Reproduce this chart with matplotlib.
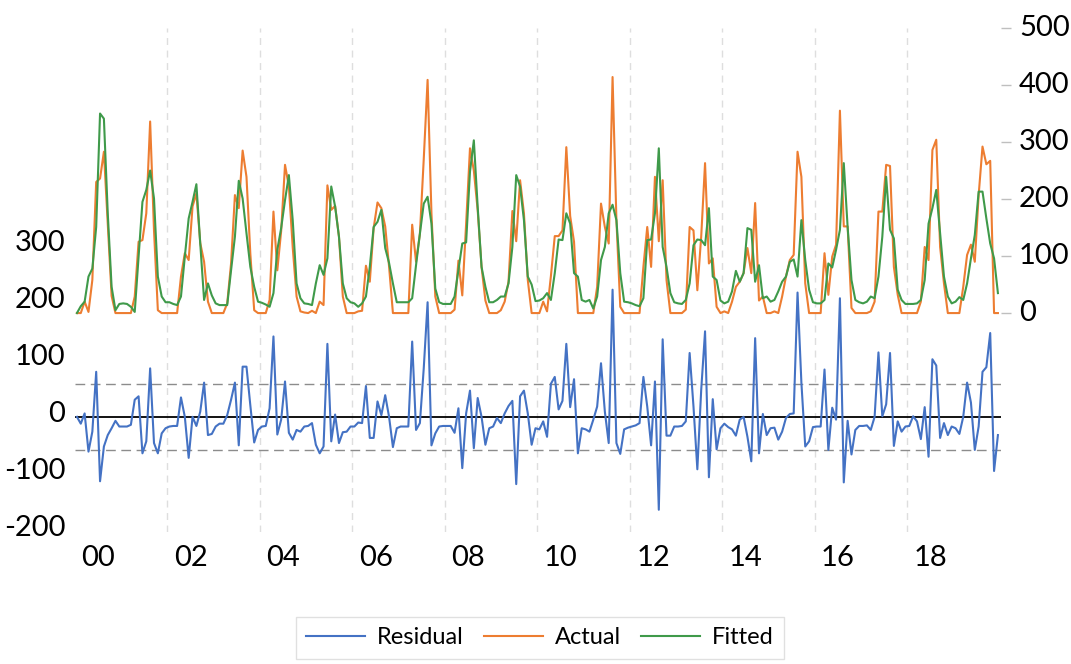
import matplotlib
matplotlib.use("Agg")
import matplotlib.pyplot as plt
import matplotlib.transforms as mtrans
import numpy as np

plt.rcParams["font.family"] = ["Lato", "DejaVu Sans"]

# monthly data, Jan 2000 - Dec 2019 (one row per year)
actual = [
    0, 0, 20, 2, 58, 230, 236, 283, 158, 30, 0, 0,
    0, 0, 0, 29, 125, 128, 175, 336, 145, 5, 0, 0,
    0, 0, 0, 64, 105, 93, 187, 210, 123, 90, 20, 0,
    0, 0, 0, 17, 87, 207, 184, 285, 239, 104, 5, 0,
    0, 0, 23, 178, 75, 144, 260, 222, 115, 29, 3, 1,
    0, 4, 0, 20, 14, 224, 181, 188, 134, 29, 0, 0,
    0, 3, 4, 83, 55, 149, 194, 184, 152, 82, 0, 0,
    0, 0, 0, 155, 90, 139, 270, 409, 175, 29, 0, 0,
    0, 0, 6, 92, 31, 157, 289, 250, 180, 81, 22, 0,
    0, 0, 5, 20, 55, 179, 126, 233, 175, 58, 0, 0,
    0, 20, 3, 65, 135, 135, 145, 291, 170, 125, 0, 0,
    0, 0, 0, 46, 192, 151, 122, 414, 163, 11, 0, 0,
    0, 0, 0, 81, 151, 81, 239, 126, 233, 58, 0, 0,
    0, 0, 6, 151, 145, 40, 134, 263, 87, 96, 11, 0,
    3, 0, 20, 46, 55, 70, 114, 70, 193, 22, 29, 0,
    0, 3, 0, 29, 64, 93, 102, 283, 239, 52, 0, 0,
    0, 0, 105, 32, 99, 120, 355, 152, 152, 9, 0, 0,
    0, 0, 3, 20, 178, 178, 260, 258, 81, 32, 0, 0,
    0, 0, 0, 20, 116, 93, 286, 304, 116, 52, 0, 0,
    0, 0, 46, 102, 120, 90, 207, 292, 261, 267, 0, 0,
]

fitted = [
    0, 12, 20, 64, 78, 151, 350, 341, 175, 46, 5, 16,
    17, 16, 11, 2, 99, 195, 216, 250, 201, 64, 29, 19,
    19, 16, 14, 29, 99, 166, 195, 226, 122, 23, 52, 31,
    17, 14, 14, 14, 75, 134, 232, 201, 140, 81, 46, 20,
    18, 15, 11, 35, 111, 149, 198, 242, 163, 52, 26, 17,
    16, 14, 52, 84, 67, 96, 222, 187, 134, 52, 26, 19,
    17, 11, 17, 29, 81, 151, 160, 181, 114, 88, 52, 19,
    19, 19, 19, 26, 84, 139, 192, 204, 157, 43, 19, 16,
    16, 16, 29, 76, 122, 124, 248, 303, 186, 81, 46, 19,
    19, 23, 29, 29, 52, 116, 242, 222, 163, 64, 50, 21,
    22, 26, 35, 23, 70, 129, 128, 175, 157, 70, 64, 23,
    20, 23, 8, 29, 93, 116, 175, 190, 163, 70, 20, 19,
    17, 14, 12, 26, 128, 129, 175, 289, 116, 81, 35, 19,
    17, 16, 23, 52, 119, 129, 128, 119, 184, 64, 58, 22,
    17, 20, 38, 74, 55, 70, 149, 146, 55, 84, 26, 29,
    20, 23, 38, 55, 64, 90, 94, 64, 163, 93, 41, 19,
    17, 17, 23, 87, 80, 111, 146, 263, 151, 58, 23, 19,
    17, 20, 29, 26, 64, 134, 239, 146, 131, 41, 23, 16,
    16, 16, 17, 23, 58, 157, 184, 216, 139, 64, 29, 17,
    20, 28, 23, 52, 96, 137, 213, 213, 166, 122, 96, 35,
]

residual = [
    0, -12, 6, -61, -26, 79, -113, -52, -32, -20, -7, -17,
    -17, -17, -14, 30, 36, -64, -43, 85, -46, -64, -29, -20,
    -17, -16, -16, 34, 0, -72, 0, -16, 9, 60, -32, -30,
    -17, -12, -12, 3, 30, 60, -50, 88, 88, 20, -45, -23,
    -17, -16, 15, 141, -31, -5, 62, -28, -40, -23, -26, -17,
    -16, -11, -49, -64, -52, 128, -43, 4, -46, -27, -26, -17,
    -17, -10, -11, 54, -37, -37, 27, 3, 38, 0, -53, -20,
    -17, -17, -17, 132, -23, -11, 85, 201, -50, -29, -17, -16,
    -16, -16, -28, 15, -90, 6, 46, -55, 33, 0, -49, -20,
    -17, -2, -11, 6, 19, 28, -118, 36, 46, 6, -49, -20,
    -22, -8, -35, 58, 70, 13, 28, 128, 17, 66, -64, -20,
    -22, -26, -5, 18, 94, 9, -46, 223, -46, -65, -22, -19,
    -17, -15, -11, 70, 18, -50, 62, -163, 136, -33, -33, -17,
    -17, -16, -8, 112, 18, -92, 47, 150, -106, 31, -57, -20,
    -12, -18, -22, -33, -5, 0, -35, -78, 138, -64, 5, -32,
    -20, -19, -40, -26, -2, 5, 6, 218, 60, -52, -43, -18,
    -17, -17, 83, -58, 16, -5, 208, -115, -7, -66, -23, -16,
    -16, -15, -23, 0, 113, 1, 22, 112, -51, -8, -26, -17,
    -16, 1, -8, -39, 17, -70, 101, 90, -37, -11, -32, -17,
    -20, -30, 0, 60, 25, -58, -17, 79, 87, 147, -95, -32,
]

year_labels = ["00", "02", "04", "06", "08", "10", "12", "14", "16", "18"]
resid_se = 58

blue = "#4472C4"
orange = "#ED7D31"
green = "#3F9A4A"

months = np.arange(len(actual))

fig = plt.figure(figsize=(10.71, 6.64), dpi=100)
ax = fig.add_axes([75 / 1071, 1 - 532 / 664, 926 / 1071, 504 / 664])
ax2 = ax.twinx()

# residual panel (left axis)
ax.axhline(0, color="black", lw=1.3, zorder=2)
for s in (resid_se, -resid_se):
    ax.axhline(s, color="#8C8C8C", lw=1.0, dashes=(7, 4), zorder=2)
for j in range(1, len(year_labels)):
    ax.axvline(24 * j - 0.5, color="#DEDEDE", lw=1.0, dashes=(5, 4), zorder=1)
res_line, = ax.plot(months, residual, color=blue, lw=1.5, zorder=3)

# actual / fitted (right axis)
act_line, = ax2.plot(months, actual, color=orange, lw=1.5)
fit_line, = ax2.plot(months, fitted, color=green, lw=1.5)

ax.set_xlim(-0.5, len(actual) - 0.2)
ax.set_ylim(-202, 682)
ax2.set_ylim(-384, 500)

ax.set_yticks([-200, -100, 0, 100, 200, 300])
ax.set_yticklabels(["-200", "-100", "0", "100", "200", "300"])
ax.tick_params(axis="y", length=0, pad=7, labelsize=21)
ax.set_xticks([24 * j + 5.5 for j in range(len(year_labels))])
ax.set_xticklabels(year_labels)
ax.tick_params(axis="x", length=0, pad=9, labelsize=21)

ax2.set_yticks([0, 100, 200, 300, 400, 500])
ax2.tick_params(axis="y", length=7, width=1, color="#BFBFBF", pad=6, labelsize=21)

# labels sit a little above their tick positions in the original
up_left = mtrans.ScaledTranslation(0, 5 / 100, fig.dpi_scale_trans)
up_right = mtrans.ScaledTranslation(0, 3 / 100, fig.dpi_scale_trans)
for lab in ax.get_yticklabels():
    lab.set_transform(lab.get_transform() + up_left)
for lab in ax2.get_yticklabels():
    lab.set_transform(lab.get_transform() + up_right)

for a in (ax, ax2):
    for sp in a.spines.values():
        sp.set_visible(False)

leg = fig.legend([res_line, act_line, fit_line], ["Residual", "Actual", "Fitted"],
                 loc="center", bbox_to_anchor=(540 / 1071, 1 - 638 / 664), ncol=3,
                 fontsize=17, frameon=True, fancybox=False, edgecolor="#D9D9D9",
                 handlelength=2.5, handletextpad=0.5, columnspacing=0.85,
                 borderpad=0.45, borderaxespad=0)
leg.get_frame().set_linewidth(1.0)

fig.savefig("out.png", dpi=100)
